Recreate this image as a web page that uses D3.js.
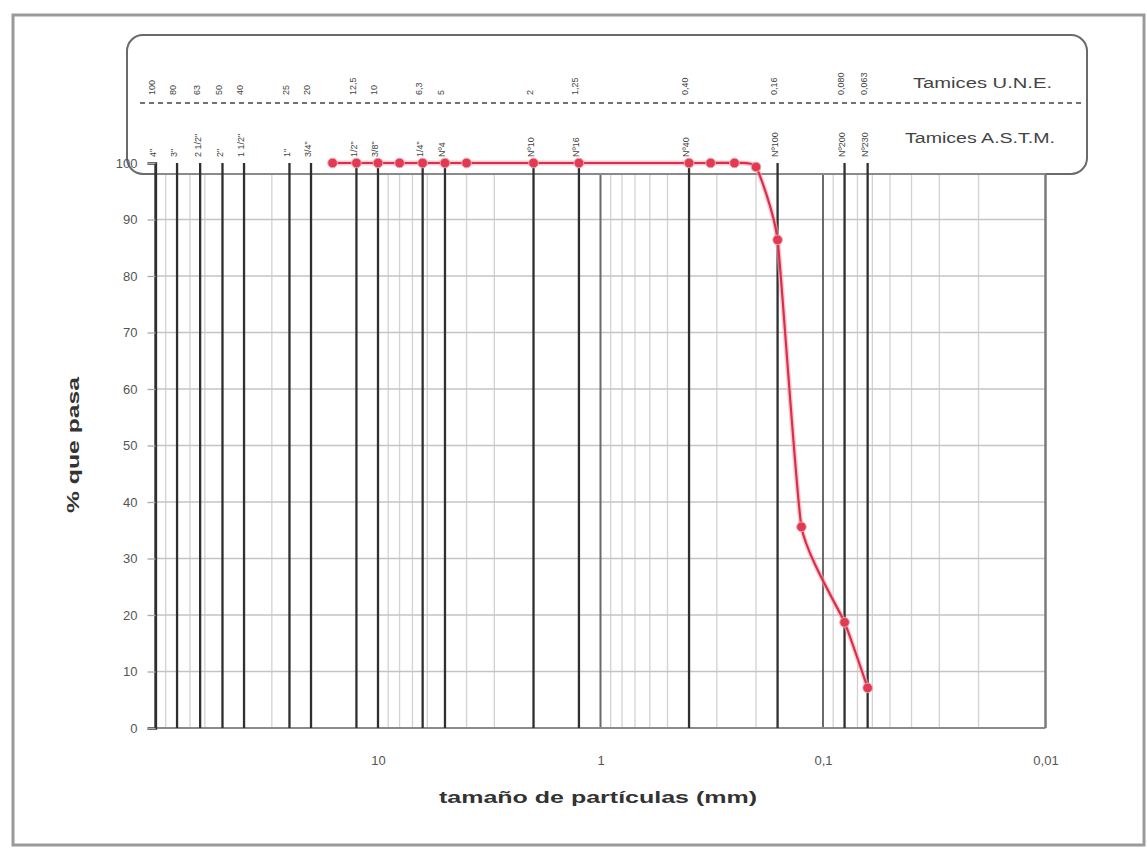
<!DOCTYPE html>
<html>
<head>
<meta charset="utf-8">
<script src="https://cdn.jsdelivr.net/npm/d3@7"></script>
<style>
  html, body { margin: 0; padding: 0; background: #fff; }
  svg { display: block; font-family: Arial, "Liberation Sans", sans-serif; }
</style>
</head>
<body>
<svg id="chart" width="1147" height="848"></svg>
<script>
// Grading curve: sieve opening (mm) vs. percentage passing
const sieveSizes = [16, 12.5, 10, 8, 6.3, 5, 4, 2, 1.25, 0.4, 0.32, 0.25, 0.2, 0.16, 0.125, 0.08, 0.063];
const percentPassing = [100, 100, 100, 100, 100, 100, 100, 100, 100, 100, 100, 100, 99.3, 86.4, 35.6, 18.7, 7.1];

// Reference sieves drawn as heavy vertical lines
const uneSieves = [100, 80, 63, 50, 40, 25, 20, 12.5, 10, 6.3, 5, 2, 1.25, 0.4, 0.16, 0.08, 0.063];
const uneLabels = ["100", "80", "63", "50", "40", "25", "20", "12,5", "10", "6,3", "5", "2", "1,25", "0,40", "0,16", "0,080", "0,063"];
const astmLabels = ["4\"", "3\"", "2 1/2\"", "2\"", "1 1/2\"", "1\"", "3/4\"", "1/2\"", "3/8\"", "1/4\"", "Nº4", "Nº10", "Nº16", "Nº40", "Nº100", "Nº200", "Nº230"];

const xTicks = [10, 1, 0.1, 0.01];
const xTickLabels = ["10", "1", "0,1", "0,01"];
const yTicks = [0, 10, 20, 30, 40, 50, 60, 70, 80, 90, 100];

const svg = d3.select("#chart");

const x = d3.scaleLog().domain([100, 0.01]).range([155.5, 1045.5]);
const y = d3.scaleLinear().domain([0, 100]).range([728, 163]);

const plotTop = 174;

// Outer frame
svg.append("rect")
  .attr("x", 13).attr("y", 15).attr("width", 1131).attr("height", 830)
  .attr("fill", "none").attr("stroke", "#9a9a9a").attr("stroke-width", 3);

// Minor logarithmic grid
const minor = [];
[100, 10, 1, 0.1].forEach(dec => {
  for (let k = 2; k <= 9; k++) minor.push(dec / 10 * k);
});
svg.append("g").selectAll("line").data(minor).join("line")
  .attr("x1", d => x(d)).attr("x2", d => x(d))
  .attr("y1", plotTop).attr("y2", y(0))
  .attr("stroke", "#d2d2d2").attr("stroke-width", 1.3);

// Horizontal grid
svg.append("g").selectAll("line").data(yTicks.filter(d => d > 0 && d < 100)).join("line")
  .attr("x1", x(100)).attr("x2", x(0.01))
  .attr("y1", d => y(d)).attr("y2", d => y(d))
  .attr("stroke", "#c4c4c4").attr("stroke-width", 1.4);

// Decade lines
svg.append("g").selectAll("line").data([10, 1, 0.1]).join("line")
  .attr("x1", d => x(d)).attr("x2", d => x(d))
  .attr("y1", plotTop).attr("y2", y(0))
  .attr("stroke", "#6a6a6a").attr("stroke-width", 2);

// Sieve label panel
svg.append("rect")
  .attr("x", 127).attr("y", 35).attr("width", 960).attr("height", 139)
  .attr("rx", 16).attr("ry", 16)
  .attr("fill", "#fff").attr("stroke", "#6a6a6a").attr("stroke-width", 2);

svg.append("line")
  .attr("x1", 140).attr("x2", 1085).attr("y1", 103).attr("y2", 103)
  .attr("stroke", "#444").attr("stroke-width", 1.6).attr("stroke-dasharray", "5,4");

// Plot frame
svg.append("line")
  .attr("x1", x(100)).attr("x2", x(0.01)).attr("y1", y(0)).attr("y2", y(0))
  .attr("stroke", "#8a8a8a").attr("stroke-width", 2);
svg.append("line")
  .attr("x1", x(0.01)).attr("x2", x(0.01)).attr("y1", plotTop).attr("y2", y(0))
  .attr("stroke", "#7a7a7a").attr("stroke-width", 2.5);
svg.append("line")
  .attr("x1", x(100)).attr("x2", x(0.01)).attr("y1", plotTop).attr("y2", plotTop)
  .attr("stroke", "#8a8a8a").attr("stroke-width", 2);

// Sieve lines
svg.append("g").selectAll("line").data(uneSieves).join("line")
  .attr("x1", d => x(d)).attr("x2", d => x(d))
  .attr("y1", y(100)).attr("y2", y(0))
  .attr("stroke", "#2f2f2f").attr("stroke-width", 2.3);

// Sieve labels (rotated)
const labelG = svg.append("g").attr("fill", "#444").attr("font-size", 9);
labelG.selectAll("text.une").data(uneSieves).join("text")
  .attr("class", "une")
  .attr("transform", d => `translate(${x(d) - 3},95) rotate(-90)`)
  .attr("dominant-baseline", "middle")
  .text((d, i) => uneLabels[i]);
labelG.selectAll("text.astm").data(uneSieves).join("text")
  .attr("class", "astm")
  .attr("transform", d => `translate(${x(d) - 2},157) rotate(-90)`)
  .attr("dominant-baseline", "middle")
  .text((d, i) => astmLabels[i]);

svg.append("text")
  .attr("x", 913).attr("y", 84).attr("dominant-baseline", "middle")
  .attr("font-size", 14).attr("fill", "#444")
  .attr("textLength", 139).attr("lengthAdjust", "spacingAndGlyphs")
  .text("Tamices U.N.E.");
svg.append("text")
  .attr("x", 905).attr("y", 139).attr("dominant-baseline", "middle")
  .attr("font-size", 14).attr("fill", "#444")
  .attr("textLength", 150).attr("lengthAdjust", "spacingAndGlyphs")
  .text("Tamices A.S.T.M.");

// Y axis
const yAxis = d3.axisLeft(y).tickValues(yTicks).tickSize(8).tickPadding(10);
const yg = svg.append("g").attr("transform", `translate(${x(100)},0)`).call(yAxis);
yg.select(".domain").attr("stroke", "#2f2f2f").attr("stroke-width", 2.3);
yg.selectAll(".tick line").attr("stroke", "#aaa").attr("stroke-width", 1.3);
yg.selectAll(".tick text").attr("font-size", 13).attr("fill", "#555")
  .attr("font-family", "Arial, 'Liberation Sans', sans-serif");

// X axis labels
const xAxis = d3.axisBottom(x).tickValues(xTicks).tickSize(0).tickPadding(28)
  .tickFormat((d, i) => xTickLabels[i]);
const xg = svg.append("g").attr("transform", `translate(0,${y(0)})`).call(xAxis);
xg.select(".domain").remove();
xg.selectAll(".tick text").attr("font-size", 13).attr("fill", "#555")
  .attr("font-family", "Arial, 'Liberation Sans', sans-serif");

// Axis titles
svg.append("text")
  .attr("x", 598).attr("y", 799).attr("text-anchor", "middle").attr("dominant-baseline", "middle")
  .attr("font-size", 17).attr("font-weight", "bold").attr("fill", "#333")
  .attr("textLength", 318).attr("lengthAdjust", "spacingAndGlyphs")
  .text("tamaño de partículas (mm)");
svg.append("text")
  .attr("transform", "translate(75,445) rotate(-90)")
  .attr("text-anchor", "middle").attr("dominant-baseline", "middle")
  .attr("font-size", 17).attr("font-weight", "bold").attr("fill", "#333")
  .attr("textLength", 136).attr("lengthAdjust", "spacingAndGlyphs")
  .text("% que pasa");

// Grading curve
const pts = sieveSizes.map((s, i) => [x(s), y(percentPassing[i])]);
const line = d3.line().curve(d3.curveCardinal.tension(0.55));
svg.append("path")
  .attr("d", line(pts))
  .attr("fill", "none").attr("stroke", "#f3a7b4").attr("stroke-width", 5).attr("opacity", 0.6);
svg.append("path")
  .attr("d", line(pts))
  .attr("fill", "none").attr("stroke", "#d9304a").attr("stroke-width", 2.2);

svg.append("g").selectAll("circle").data(pts).join("circle")
  .attr("cx", d => d[0]).attr("cy", d => d[1]).attr("r", 4.8)
  .attr("fill", "#e23a52").attr("stroke", "#f0a0ad").attr("stroke-width", 1);
</script>
</body>
</html>
